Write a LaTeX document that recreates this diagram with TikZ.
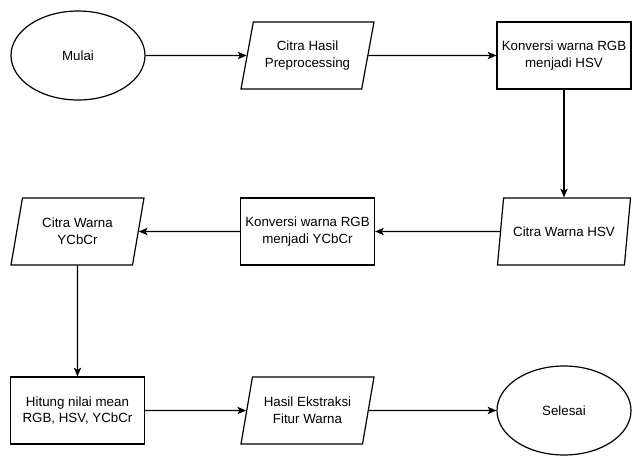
\documentclass[tikz,border=0pt]{standalone}
\usepackage{fontspec}
\setmainfont{Liberation Sans}
\usetikzlibrary{shapes.geometric,arrows.meta}
\begin{document}
\begin{tikzpicture}[x=0.75pt,y=-0.75pt,
  line width=0.9pt,
  font=\fontsize{10pt}{12.5pt}\selectfont,
  terminal/.style={ellipse, draw, minimum width=100.5pt, minimum height=66.75pt},
  process/.style={rectangle, draw, align=center, minimum width=100.5pt, minimum height=50.25pt},
  data/.style={trapezium, trapezium left angle=72, trapezium right angle=108,
    trapezium stretches body, draw, align=center, minimum width=99.75pt, minimum height=50.25pt},
  flow/.style={-{Stealth[length=6.5pt,width=5.5pt,inset=1.5pt]}}]
  % Frame
  \useasboundingbox (0,0) rectangle (642,468);

  % Top row
  \node[terminal] (mulai) at (78,55.5) {Mulai};
  \node[data] (citra) at (307.5,55.5) {Citra Hasil\\Preprocessing};
  \node[process] (hsv) at (564,55.5) {Konversi warna RGB\\menjadi HSV};

  % Middle row
  \node[data] (citrahsv) at (564,231.5) {Citra Warna HSV};
  \node[process] (ycbcr) at (307.5,231.5) {Konversi warna RGB\\menjadi YCbCr};
  \node[data] (citraycbcr) at (77.5,231.5) {Citra Warna\\YCbCr};

  % Bottom row
  \node[process] (mean) at (77.5,410.5) {Hitung nilai mean\\RGB, HSV, YCbCr};
  \node[data] (hasil) at (307.5,410.5) {Hasil Ekstraksi\\Fitur Warna};
  \node[terminal] (selesai) at (564,410.5) {Selesai};

  % Arrows
  \draw[flow] (mulai) -- (citra);
  \draw[flow] (citra) -- (hsv);
  \draw[flow] (hsv) -- (citrahsv);
  \draw[flow] (citrahsv) -- (ycbcr);
  \draw[flow] (ycbcr) -- (citraycbcr);
  \draw[flow] (citraycbcr) -- (mean);
  \draw[flow] (mean) -- (hasil);
  \draw[flow] (hasil) -- (selesai);
\end{tikzpicture}
\end{document}
